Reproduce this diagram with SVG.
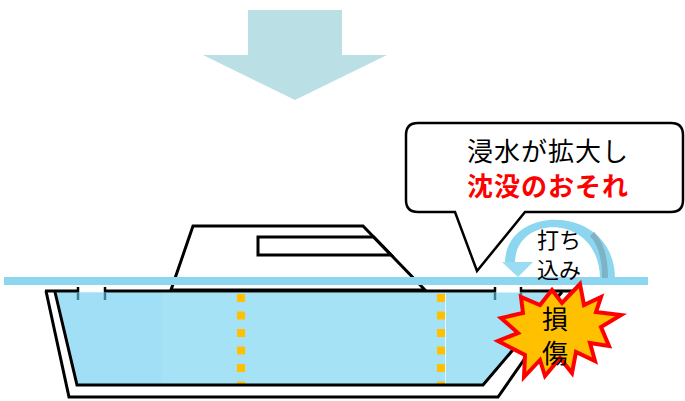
<svg xmlns="http://www.w3.org/2000/svg" width="685" height="401" viewBox="0 0 685 401">
  <style>
    .ln { fill: none; stroke: #000; stroke-width: 3; stroke-linejoin: miter; }
    .txt { font-family: "Noto Sans CJK JP", "Noto Sans", sans-serif; fill: #000; text-anchor: middle; }
    .dash { stroke: #ffc000; stroke-width: 8; stroke-dasharray: 8 9.5; fill: none; }
    .tickTop { stroke: #000; stroke-width: 2.5; }
    .tickLow { stroke: #3b7f95; stroke-width: 2.5; }
  </style>

  <!-- large downward arrow -->
  <g id="down-arrow">
    <polygon points="248,10 342,10 342,55 387,55 295,100 203,55 248,55" fill="#bae0e5"/>
  </g>

  <!-- speech bubble -->
  <g id="bubble">
    <path d="M418,123 H671 Q683,123 683,135 V200 Q683,212 671,212 H525 L477,271 L455,212 H418 Q406,212 406,200 V135 Q406,123 418,123 Z" fill="#fff" stroke="#000" stroke-width="2.5" stroke-linejoin="miter"/>
    <text class="txt" x="548" y="161" font-size="26" letter-spacing="1">浸水が拡大し</text>
    <text class="txt" x="548" y="196" font-size="26" letter-spacing="1" font-weight="bold" style="fill:#ff0000">沈没のおそれ</text>
  </g>

  <!-- boat -->
  <g id="boat">
    <!-- cabin -->
    <polygon points="171,290 193,226 363,226 425,290" fill="#fff" stroke="#000" stroke-width="3"/>
    <polygon points="258,237 373.7,237 391.1,255 258,255" class="ln"/>
    <!-- outer hull -->
    <path d="M46,291 L69,397 L498,397 L572,291" fill="#fff" stroke="#000" stroke-width="3"/>
    <!-- flooded interior -->
    <polygon points="56.5,292.5 561,292.5 483,384 77.5,384" fill="#a6e2f6"/>
    <polygon points="56.5,292.5 162,292.5 162,384 77.5,384" fill="#a0dff5"/>
    <line x1="445.5" y1="293" x2="445.5" y2="384" stroke="#e6f7fd" stroke-width="1"/>
    <!-- bulkheads -->
    <line class="dash" x1="241" y1="294" x2="241" y2="386"/>
    <line class="dash" x1="441" y1="294" x2="441" y2="386"/>
    <!-- inner hull -->
    <path d="M55,292 L77,385 L483,385 L562,292" class="ln"/>
    <!-- deck with openings -->
    <line x1="45" y1="291" x2="78" y2="291" class="ln"/>
    <line x1="105" y1="291" x2="495" y2="291" class="ln"/>
    <line x1="521" y1="291" x2="573" y2="291" class="ln"/>
    <line class="tickTop" x1="78" y1="287" x2="78" y2="292"/>
    <line class="tickLow" x1="78" y1="292" x2="78" y2="300"/>
    <line class="tickTop" x1="105" y1="287" x2="105" y2="292"/>
    <line class="tickLow" x1="105" y1="292" x2="105" y2="300"/>
    <line class="tickTop" x1="495" y1="287" x2="495" y2="292"/>
    <line class="tickLow" x1="495" y1="292" x2="495" y2="300"/>
    <line class="tickTop" x1="521" y1="287" x2="521" y2="292"/>
    <line class="tickLow" x1="521" y1="292" x2="521" y2="300"/>
  </g>

  <!-- sea surface -->
  <g id="sea">
    <rect x="4" y="277" width="644" height="8" fill="#8cd6f0"/>
  </g>

  <!-- wave breaking over the deck -->
  <g id="connectors">
    <path d="M615,279 C615,203 505,203 505,263 L515,263 C515,213 600,213 600,279 Z" fill="#8cd6f0"/>
    <path d="M605,278 C605,254 600,242 592,234" fill="none" stroke="#80b2c6" stroke-width="6"/>
    <polygon points="502,262 533,262 518,277" fill="#9adcf2"/>
  </g>
  <g id="wave-label">
    <text class="txt" x="559" y="248" font-size="22">打ち</text>
    <text class="txt" x="559" y="278" font-size="22">込み</text>
  </g>

  <!-- damage burst -->
  <g id="damage">
    <polygon points="580,284 584,305 601,297 596,312 621,315 601,327 609,346 590,343 595,361 576,352 572,373 560,358 545,376 540,360 524,377 525,355 498,341 518,333 501,318 523,313 521,297 540,305 552,290 562,303" fill="#ffc000" stroke="#ff0000" stroke-width="4" stroke-linejoin="miter"/>
    <text class="txt" x="555" y="329" font-size="26">損</text>
    <text class="txt" x="555" y="363" font-size="26">傷</text>
  </g>
</svg>
